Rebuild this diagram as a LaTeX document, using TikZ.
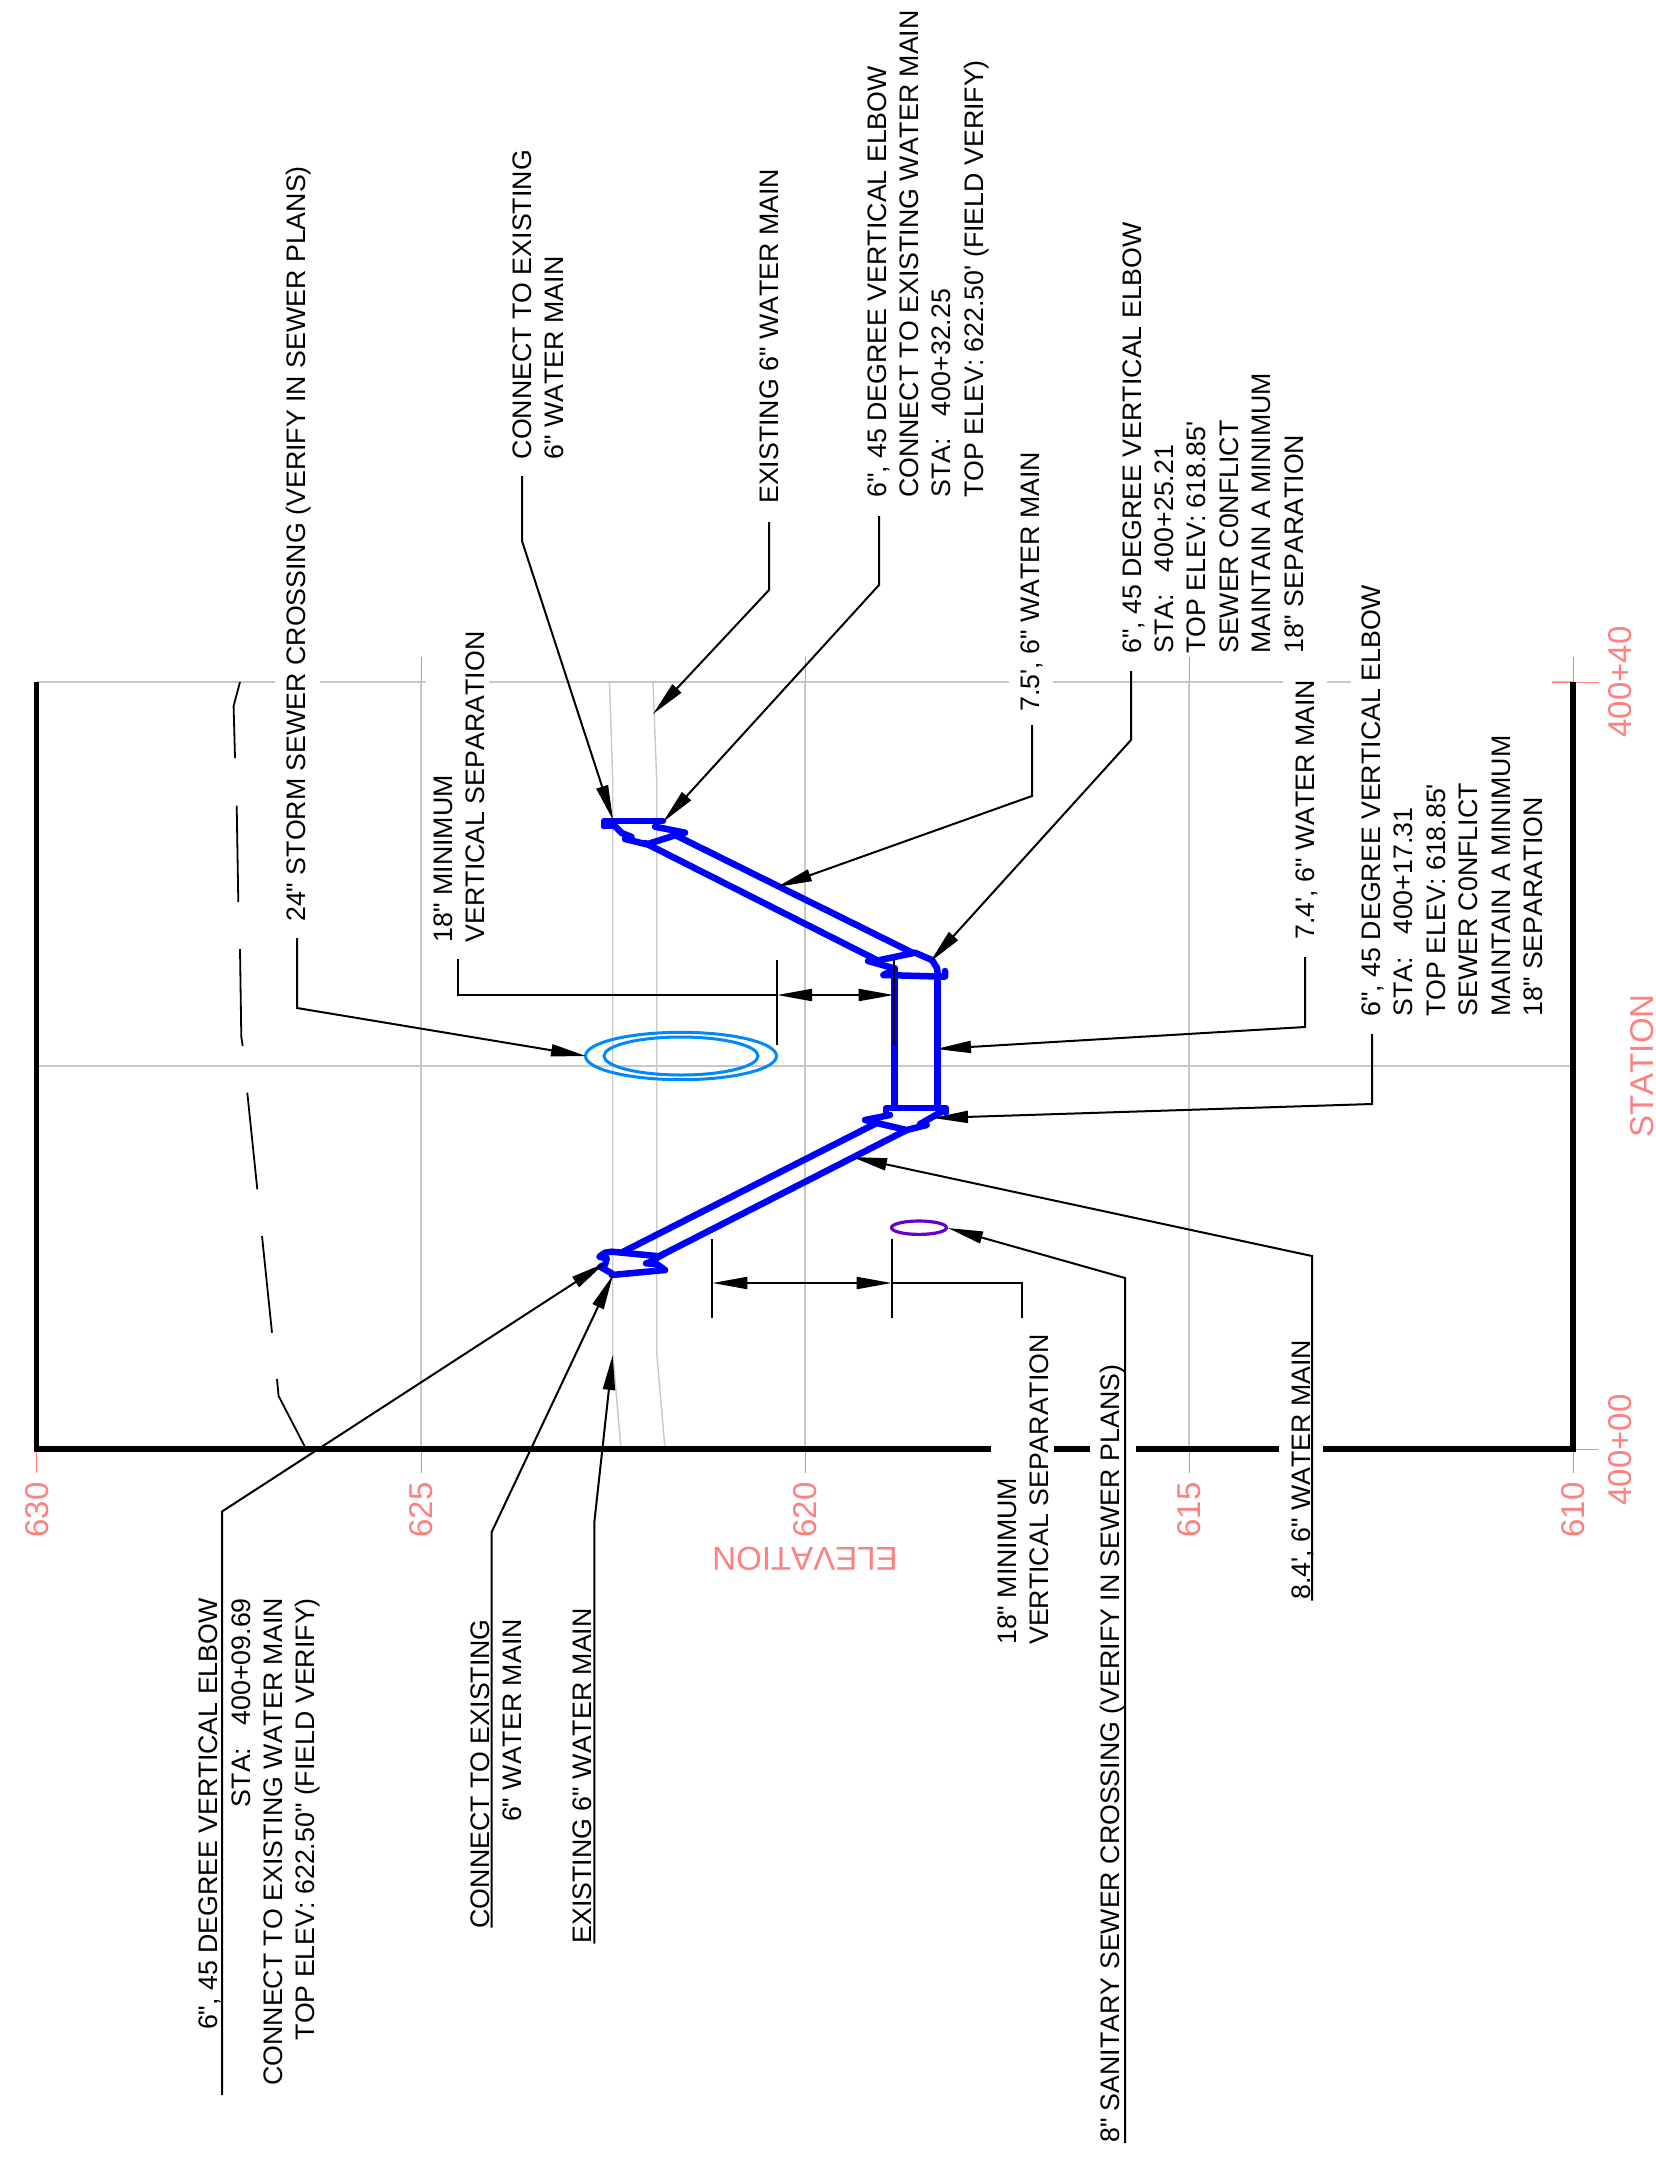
\documentclass[tikz,border=0pt]{standalone}
\usepackage{fontspec}
\setmainfont[Ligatures=TeXOff,Kerning=Off]{Liberation Sans}
\usetikzlibrary{arrows.meta}
\definecolor{pinkc}{HTML}{FF8080}
\definecolor{grayc}{HTML}{C8C8C8}
\definecolor{stormc}{HTML}{0088FF}
\definecolor{sanc}{HTML}{6600CC}
\tikzset{
  gridl/.style={draw=grayc,line width=2pt},
  mainl/.style={draw=grayc,line width=1.4pt},
  tickl/.style={draw=pinkc,line width=1pt},
  framel/.style={draw=black,line width=5.5pt},
  sewerl/.style={draw=black,line width=1.8pt},
  pipe/.style={draw=blue,line width=6.5pt,line cap=round,line join=round},
  leader/.style={draw=black,line width=2pt,line join=miter},
  arrl/.style={leader,-{Triangle[length=35pt,width=12pt]}},
  dimh/.style={draw=black,line width=2pt},
  lbl/.style={rotate=90,inner sep=0pt,anchor=base west,align=left,font=\fontsize{26.75}{32.4}\selectfont},
  lblr/.style={lbl,anchor=base east,align=right},
  axis/.style={text=pinkc,inner sep=0pt,font=\fontsize{33}{36}\selectfont},
}
\begin{document}
\begin{tikzpicture}[x=1pt,y=-1pt]
\useasboundingbox (0,0) rectangle (1656,2162);
% grey grid
\foreach \g in {421,805,1189}{\draw[gridl] (\g,682) -- (\g,1449);}
\draw[gridl] (36.7,682) -- (275,682);
\draw[gridl] (320,682) -- (426,682);
\draw[gridl] (489,682) -- (1009,682);
\draw[gridl] (1053,682) -- (1283,682);
\draw[gridl] (1327,682) -- (1351,682);
\draw[gridl] (1552,682) -- (1573,682);
\draw[gridl] (36.7,1065.5) -- (1573,1065.5);
% existing main
\draw[mainl] (609.5,682) -- (612.7,780) -- (612.7,1353) -- (621,1449);
\draw[mainl] (653,682) -- (656.7,780) -- (656.7,1353) -- (665,1449);
% pink ticks
\foreach \g in {36.7,421,805,1189,1573}{\draw[tickl] (\g,1449) -- (\g,1473);}
\foreach \g in {421,805,1189,1573}{\draw[tickl] (\g,657) -- (\g,682);}
\draw[tickl] (1552,682) -- (1599,682);
\draw[tickl] (1573,1449) -- (1598,1449);
% frame
\draw[framel] (36.7,682) -- (36.7,1451.5);
\draw[framel] (1573,682) -- (1573,1451.5);
\draw[framel] (34,1449) -- (991,1449);
\draw[framel] (1054,1449) -- (1090,1449);
\draw[framel] (1135.5,1449) -- (1279,1449);
\draw[framel] (1323,1449) -- (1575.5,1449);
% storm sewer profile
\draw[sewerl] (240,682) -- (233.6,706) -- (235,758);
\draw[sewerl] (236.7,805.7) -- (238.3,902);
\draw[sewerl] (240,949) -- (241.3,1036.7) -- (242.7,1046);
\draw[sewerl] (247.3,1092.7) -- (257.3,1189.3);
\draw[sewerl] (262,1236) -- (272,1332.7);
\draw[sewerl] (277,1379) -- (278.6,1396) -- (305,1447);
% crossings
\draw[stormc,line width=3pt] (681,1056) ellipse [x radius=95.5,y radius=23.7];
\draw[stormc,line width=3pt] (681,1056) ellipse [x radius=77,y radius=19];
\draw[sanc,line width=3.2pt] (919,1227.7) ellipse [x radius=27.5,y radius=6.7];
% water main
\draw[pipe] (604,826) -- (604,821) -- (663,821);
\draw[pipe] (604,826) -- (612,826);
\draw[pipe] (612.7,824) -- (621.7,833) -- (631.7,837);
\draw[pipe] (625,839) -- (646.7,844.3) -- (673,836) -- (685,832.7) -- (655,826.7);
\draw[pipe] (645,843) -- (876.7,960);
\draw[pipe] (675,835) -- (913,953);
\draw[pipe] (868,961) -- (893,968);
\draw[pipe] (880,960) -- (915,952.7) -- (932,960) -- (937,968) -- (938,977);
\draw[pipe] (883.5,975) -- (945,976.7) -- (945,971);
\draw[pipe] (883.5,975) -- (895,969);
\draw[pipe] (894.3,968) -- (894.3,1107);
\draw[pipe] (937.7,977) -- (937.7,1107);
\draw[pipe] (886,1112) -- (886,1108) -- (946,1108) -- (946,1113);
\draw[pipe] (890,1115) -- (865,1120) -- (876.7,1123) -- (906.7,1130) -- (926.7,1125);
\draw[pipe] (941.7,1111.7) -- (920,1124);
\draw[pipe] (876.7,1123) -- (623.3,1251.7);
\draw[pipe] (906.7,1130) -- (658.3,1256.7);
\draw[pipe] (656.7,1256) -- (611.7,1251.7) -- (605,1252.7) -- (599.3,1256.7) -- (606.7,1258.3) -- (605,1265) -- (600,1266.7) -- (611.7,1273.3) -- (611.7,1275) -- (665,1270) -- (656.7,1264) -- (646,1263.3);
\draw[pipe] (665,1253.3) -- (648,1263);
% axis labels
\node[axis,rotate=90] (e630) at (37,1510) {630};
\node[axis,rotate=90] (e625) at (421,1510) {625};
\node[axis,rotate=90] (e620) at (805,1510) {620};
\node[axis,rotate=90] (e615) at (1189,1510) {615};
\node[axis,rotate=90] (e610) at (1573,1510) {610};
\node[axis,rotate=90] (s40) at (1620,682) {400+40};
\node[axis,rotate=90] (s00) at (1620,1450) {400+00};
\node[axis,rotate=90] (stn) at (1642,1066) {STATION};
\node[axis,rotate=180] (elv) at (805,1559) {ELEVATION};
% top labels (base anchor of a multi-line node lies on its last line)
\node[lbl] (t1) at (563.4,459.5) {CONNECT TO EXISTING\\6" WATER MAIN};
\node[lbl] (t2) at (778.5,504) {EXISTING 6" WATER MAIN};
\node[lbl] (t3) at (983.2,498) {6", 45 DEGREE VERTICAL ELBOW\\CONNECT TO EXISTING WATER MAIN\\STA:\ \ \ 400+32.25\\TOP ELEV: 622.50' (FIELD VERIFY)};
\node[lbl] (t4) at (1039,712) {7.5', 6" WATER MAIN};
\node[lbl] (t5) at (1303,654) {6", 45 DEGREE VERTICAL ELBOW\\STA:\ \ \ 400+25.21\\TOP ELEV: 618.85'\\SEWER C0NFLICT\\MAINTAIN A MINIMUM\\18" SEPARATION};
\node[lbl] (t6) at (1314.6,940) {7.4', 6" WATER MAIN};
\node[lbl] (t7) at (1542.4,1016.7) {6", 45 DEGREE VERTICAL ELBOW\\STA:\ \ \ 400+17.31\\TOP ELEV: 618.85'\\SEWER C0NFLICT\\MAINTAIN A MINIMUM\\18" SEPARATION};
\node[lbl] (t8) at (305,922) {24" STORM SEWER CROSSING (VERIFY IN SEWER PLANS)};
\node[lbl] (t9) at (484.4,942.5) {18" MINIMUM\\VERTICAL SEPARATION};
% bottom labels
\node[lblr] (b1) at (314.9,1598) {6", 45 DEGREE VERTICAL ELBOW\\STA:\ \ \ 400+09.69\\CONNECT TO EXISTING WATER MAIN\\TOP ELEV: 622.50" (FIELD VERIFY)};
\node[lblr] (b2) at (521.4,1619) {CONNECT TO EXISTING\\6" WATER MAIN};
\node[lbl] (b3) at (591,1943.5) {EXISTING 6" WATER MAIN};
\node[lbl] (b4) at (1048.8,1645) {18" MINIMUM\\VERTICAL SEPARATION};
\node[lbl] (b5) at (1119,2143) {8" SANITARY SEWER CROSSING (VERIFY IN SEWER PLANS)};
\node[lbl] (b6) at (1310,1600) {8.4', 6" WATER MAIN};
% leader coordinates
\coordinate (c1a) at (522,476); \coordinate (c1b) at (522,541); \coordinate (c1t) at (613,820);
\coordinate (c2a) at (769,522); \coordinate (c2b) at (769,590); \coordinate (c2t) at (653,714);
\coordinate (c3a) at (879,516); \coordinate (c3b) at (879,585); \coordinate (c3t) at (663,822);
\coordinate (c4a) at (1032,725); \coordinate (c4b) at (1032,796); \coordinate (c4t) at (777,887);
\coordinate (c5a) at (1131,671); \coordinate (c5b) at (1131,740); \coordinate (c5t) at (930,962);
\coordinate (c6a) at (1305,957); \coordinate (c6b) at (1305,1027); \coordinate (c6t) at (936,1049);
\coordinate (c7a) at (1372,1034); \coordinate (c7b) at (1372,1104); \coordinate (c7t) at (933,1118);
\coordinate (c8a) at (297,938); \coordinate (c8b) at (297,1008); \coordinate (c8t) at (586,1056);
\coordinate (d1a) at (458,959); \coordinate (d1b) at (458,995);
\coordinate (d1l) at (777,995); \coordinate (d1r) at (893.7,995);
\coordinate (d1lt) at (777,960); \coordinate (d1lb) at (777,1045);
\coordinate (d1rt) at (893.7,960); \coordinate (d1rb) at (893.7,1045);
\coordinate (d2l) at (712.3,1283); \coordinate (d2r) at (891.7,1283);
\coordinate (d2lt) at (712.3,1239); \coordinate (d2lb) at (712.3,1318);
\coordinate (d2rt) at (891.7,1239); \coordinate (d2rb) at (891.7,1318);
\coordinate (d2a) at (1022,1283); \coordinate (d2b) at (1022,1318);
\coordinate (e1a) at (1312,1600.7); \coordinate (e1b) at (1312,1256); \coordinate (e1t) at (852,1157);
\coordinate (e2a) at (1125,2143); \coordinate (e2b) at (1125,1278); \coordinate (e2t) at (948,1228);
\coordinate (e3a) at (222,2095); \coordinate (e3b) at (222,1511.5); \coordinate (e3t) at (605,1263);
\coordinate (e4a) at (491.7,1927.5); \coordinate (e4b) at (491.7,1532); \coordinate (e4t) at (613,1275);
\coordinate (e5a) at (594.3,1943.5); \coordinate (e5b) at (594.3,1522.5); \coordinate (e5t) at (612.7,1355);
% leaders
\draw[arrl] (c1a) -- (c1b) -- (c1t);
\draw[arrl] (c2a) -- (c2b) -- (c2t);
\draw[arrl] (c3a) -- (c3b) -- (c3t);
\draw[arrl] (c4a) -- (c4b) -- (c4t);
\draw[arrl] (c5a) -- (c5b) -- (c5t);
\draw[arrl] (c6a) -- (c6b) -- (c6t);
\draw[arrl] (c7a) -- (c7b) -- (c7t);
\draw[arrl] (c8a) -- (c8b) -- (c8t);
\draw[arrl] (e1a) -- (e1b) -- (e1t);
\draw[arrl] (e2a) -- (e2b) -- (e2t);
\draw[arrl] (e3a) -- (e3b) -- (e3t);
\draw[arrl] (e4a) -- (e4b) -- (e4t);
\draw[arrl] (e5a) -- (e5b) -- (e5t);
% dimensions
\draw[dimh] (d1lt) -- (d1lb);
\draw[dimh] (d1rt) -- (d1rb);
\draw[leader] (d1a) -- (d1b) -- (d1l);
\draw[dimh,{Triangle[length=35pt,width=12pt]}-{Triangle[length=35pt,width=12pt]}] (d1l) -- (d1r);
\draw[dimh] (d2lt) -- (d2lb);
\draw[dimh] (d2rt) -- (d2rb);
\draw[dimh,{Triangle[length=35pt,width=12pt]}-{Triangle[length=35pt,width=12pt]}] (d2l) -- (d2r);
\draw[leader] (d2r) -- (d2a) -- (d2b);
\end{tikzpicture}
\end{document}
